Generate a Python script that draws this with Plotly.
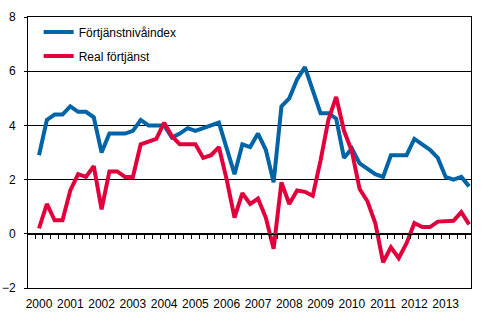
import plotly.graph_objects as go

years = [str(y) for y in range(2000, 2014)]
quarters = list(range(56))

fortjanstniva = [2.9, 4.2, 4.4, 4.4, 4.7, 4.5, 4.5, 4.3, 3.0, 3.7, 3.7, 3.7, 3.8, 4.2,
                 4.0, 4.0, 4.0, 3.55, 3.7, 3.9, 3.8, 3.9, 4.0, 4.1, 3.15, 2.2, 3.3, 3.2,
                 3.7, 3.1, 1.9, 4.7, 5.0, 5.7, 6.15, 5.3, 4.45, 4.45, 4.25, 2.8, 3.15, 2.6,
                 2.4, 2.2, 2.1, 2.9, 2.9, 2.9, 3.5, 3.3, 3.1, 2.8, 2.1, 2.0, 2.1, 1.75]
real_fortjanst = [0.2, 1.1, 0.5, 0.5, 1.6, 2.2, 2.1, 2.5, 0.9, 2.3, 2.3, 2.1, 2.1, 3.3,
                  3.4, 3.5, 4.1, 3.6, 3.3, 3.3, 3.3, 2.8, 2.9, 3.2, 2.0, 0.6, 1.5, 1.1,
                  1.3, 0.6, -0.55, 1.9, 1.1, 1.6, 1.55, 1.4, 2.7, 4.2, 5.05, 3.8, 3.05, 1.65,
                  1.2, 0.4, -1.05, -0.5, -0.9, -0.35, 0.4, 0.25, 0.25, 0.45, 0.48, 0.48, 0.8, 0.35]

BLUE = "#0064A6"
RED = "#E2003C"
FONT = "Liberation Sans, Arial, sans-serif"

xr = [-1.41, 55.24]

fig = go.Figure()
fig.add_trace(go.Scatter(x=quarters, y=fortjanstniva, mode="lines", name="Förtjänstnivåindex",
                         line=dict(color=BLUE, width=4), legendgroup="a"))
fig.add_trace(go.Scatter(x=quarters, y=real_fortjanst, mode="lines", name="Real förtjänst",
                         line=dict(color=RED, width=4), legendgroup="b", xaxis="x2"))

fig.update_layout(
    width=490, height=327,
    margin=dict(l=28, r=19, t=17, b=39, autoexpand=False),
    paper_bgcolor="white", plot_bgcolor="white",
    font=dict(family=FONT, size=12, color="black"),
    showlegend=True,
    legend=dict(x=0.024, y=0.998, xanchor="left", yanchor="top",
                bgcolor="rgba(0,0,0,0)", font=dict(size=12, family=FONT),
                tracegroupgap=5),
    xaxis=dict(range=xr, tickmode="array", tickvals=[4 * i for i in range(len(years))],
               ticktext=years, ticks="", showgrid=False, zeroline=False,
               showline=True, linecolor="black", linewidth=1, mirror=True,
               tickfont=dict(size=12), ticklabelstandoff=5, automargin=False),
    xaxis2=dict(range=xr, overlaying="x", anchor="free", position=0.2,
                tickmode="array", tickvals=[i - 0.5 for i in range(56)],
                ticks="outside", ticklen=4, tickcolor="black", tickwidth=1,
                showticklabels=False, showgrid=False, zeroline=False,
                showline=True, linecolor="black", linewidth=1, automargin=False),
    yaxis=dict(range=[-2, 8], tickmode="array", tickvals=[-2, 0, 2, 4, 6, 8],
               ticks="outside", ticklen=3, tickcolor="black",
               showgrid=True, gridcolor="black", gridwidth=1, zeroline=False,
               showline=True, linecolor="black", linewidth=1, mirror=True,
               tickfont=dict(size=12), ticklabelstandoff=6, automargin=False),
)

fig.write_html("out.html")
